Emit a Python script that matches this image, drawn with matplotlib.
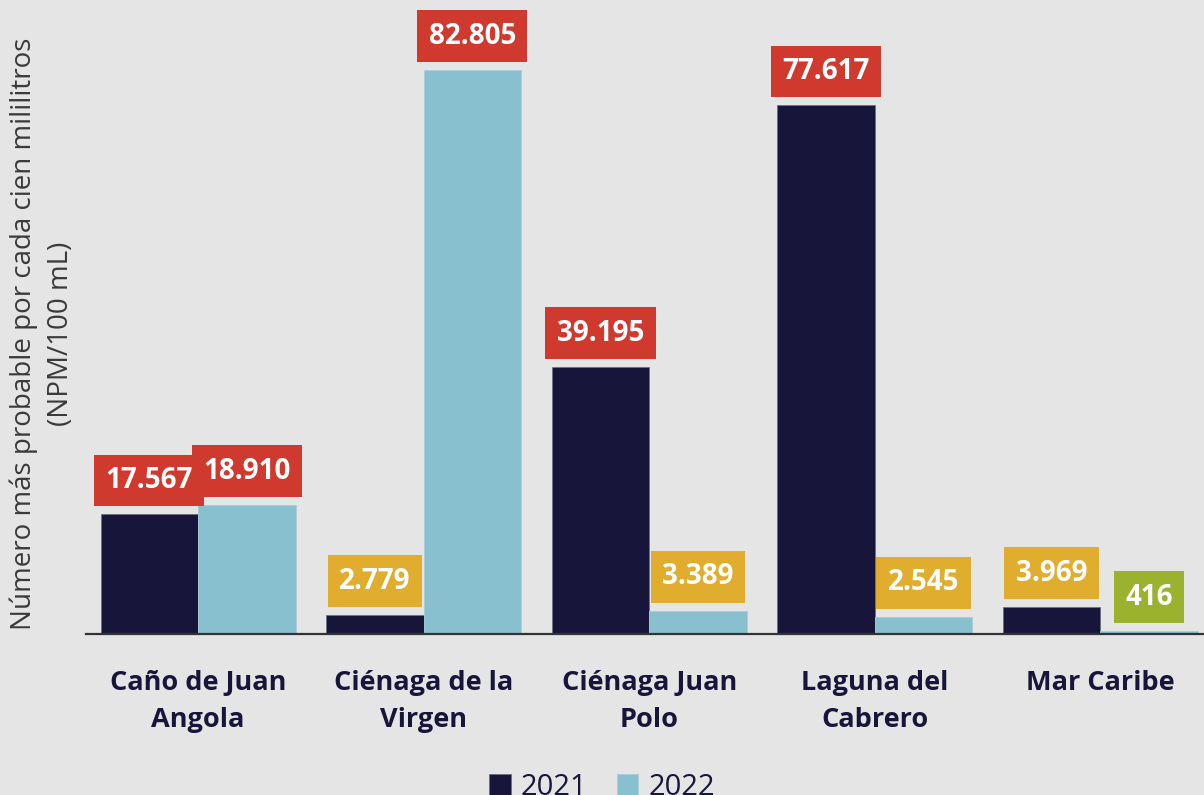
import matplotlib.pyplot as plt
import numpy as np

# datos
lugares = ['Caño de Juan\nAngola', 'Ciénaga de la\nVirgen', 'Ciénaga Juan\nPolo',
           'Laguna del\nCabrero', 'Mar Caribe']
v2021 = [17567, 2779, 39195, 77617, 3969]
v2022 = [18910, 82805, 3389, 2545, 416]
etiquetas_2021 = ['17.567', '2.779', '39.195', '77.617', '3.969']
etiquetas_2022 = ['18.910', '82.805', '3.389', '2.545', '416']

FONDO = '#e5e5e5'
NAVY = '#17163a'
CELESTE = '#88c0d0'
ROJO = '#d0392e'
AMARILLO = '#e0ad2e'
VERDE = '#9bb22e'

plt.rcParams['font.family'] = ['Open Sans', 'DejaVu Sans']


def color_caja(v):
    if v >= 10000:
        return ROJO
    if v >= 1000:
        return AMARILLO
    return VERDE


fig = plt.figure(figsize=(12.04, 7.95), dpi=100, facecolor=FONDO)
ax = fig.add_axes([86 / 1204, 161 / 795, 1 - 86 / 1204, 634 / 795])
ax.set_facecolor(FONDO)

x = np.arange(len(lugares))
w = 0.432
b1 = ax.bar(x - w / 2, v2021, w, color=NAVY, edgecolor='#6e6e80', linewidth=0.6, label='2021')
b2 = ax.bar(x + w / 2, v2022, w, color=CELESTE, edgecolor='#a9cdd8', linewidth=0.6, label='2022')

for barras, vals, etiq in [(b1, v2021, etiquetas_2021), (b2, v2022, etiquetas_2022)]:
    for rect, v, t in zip(barras, vals, etiq):
        ax.annotate(t, (rect.get_x() + rect.get_width() / 2, rect.get_height()),
                    xytext=(0, 14), textcoords='offset points',
                    ha='center', va='bottom', fontsize=20, fontweight='bold',
                    color='white',
                    bbox=dict(boxstyle='square,pad=0.41', fc=color_caja(v), ec='none'))

ax.set_xlim(-0.497, 4.46)
ax.set_ylim(0, 93100)
ax.set_yticks([])
ax.set_xticks(x)
ax.set_xticklabels(lugares, fontsize=19.5, fontweight='bold', color=NAVY, linespacing=1.55)
ax.tick_params(axis='x', length=0, pad=26)
for s in ['top', 'right', 'left']:
    ax.spines[s].set_visible(False)
ax.spines['bottom'].set_color('#333333')
ax.spines['bottom'].set_linewidth(1.6)

fig.text(42 / 1204, 1 - 334 / 795,
         'Número más probable por cada cien mililitros\n(NPM/100 mL)',
         rotation=90, ha='center', va='center', multialignment='center',
         fontsize=20, fontweight='normal', color='#3a3a3a', linespacing=1.45)

fig.legend(handles=[b1, b2], loc='upper center', bbox_to_anchor=(0.5, 22 / 795),
           ncol=2, frameon=False, fontsize=21, labelcolor=NAVY,
           handlelength=0.75, handleheight=0.75, handletextpad=0.35,
           columnspacing=1.0, borderaxespad=0, borderpad=0)

fig.savefig('out.png', dpi=100, facecolor=FONDO)
